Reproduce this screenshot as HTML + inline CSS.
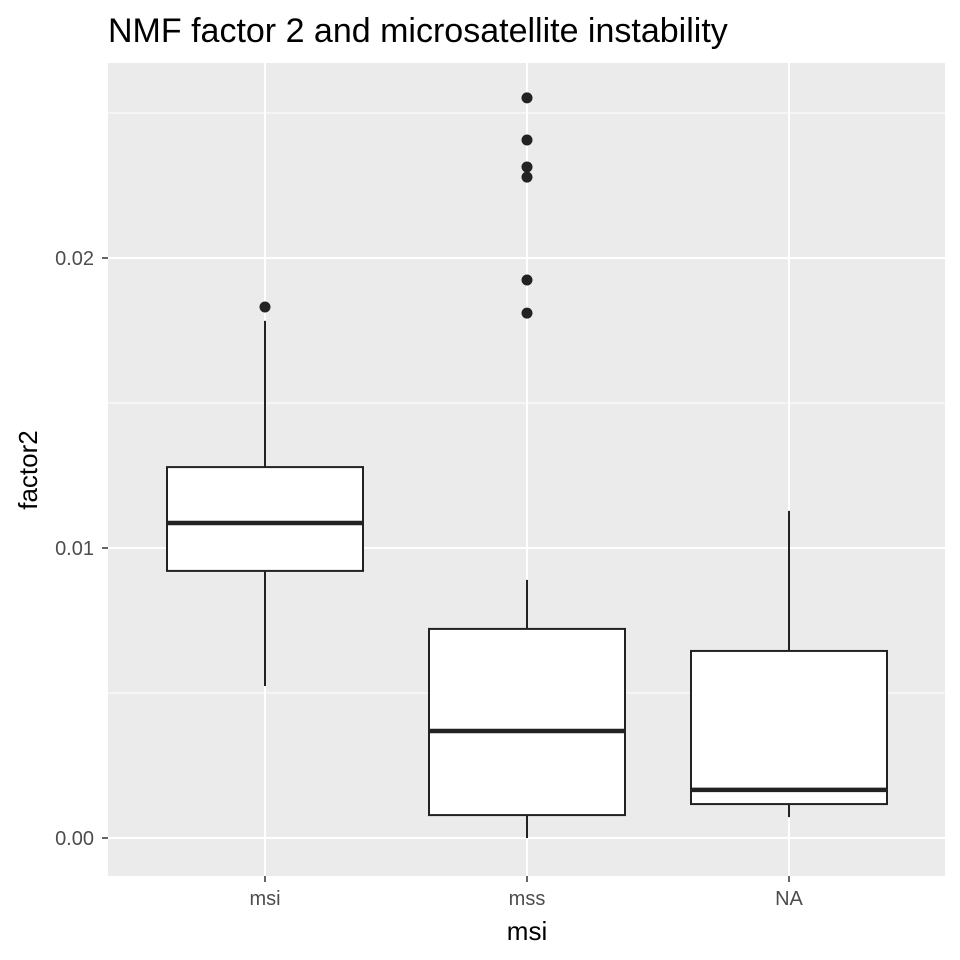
<!DOCTYPE html>
<html><head><meta charset="utf-8"><style>
body{margin:0;background:#fff;}
svg{display:block;font-family:"Liberation Sans",Arial,sans-serif;}
</style></head><body>
<svg id="chart" width="960" height="960" viewBox="0 0 960 960">
<text x="108" y="42" font-size="34" fill="#000">NMF factor 2 and microsatellite instability</text>
<rect x="108" y="63" width="837" height="813" fill="#ebebeb"/>
<g id="grid"></g><g id="boxes"></g><g id="axes"></g>
<text x="527" y="940" font-size="26" text-anchor="middle" fill="#000">msi</text>
<text transform="translate(37,470) rotate(-90)" font-size="26" text-anchor="middle" fill="#000">factor2</text>
</svg>
<script>
const categories=["msi","mss","NA"];
const q1=[0.00921,0.00079,0.00117];
const medians=[0.01086,0.00369,0.00166];
const q3=[0.01279,0.00721,0.00645];
const whiskerLow=[0.00524,0.0,0.00072];
const whiskerHigh=[0.01783,0.0089,0.01128];
const outlierCat=[0,1,1,1,1,1,1];
const outlierVal=[0.01831,0.02552,0.02407,0.02314,0.02279,0.01924,0.0181];
const yTicks=[0,0.01,0.02];
const yTickLabels=["0.00","0.01","0.02"];
const yMinor=[0.005,0.015,0.025];

const NS="http://www.w3.org/2000/svg";
const y=v=>838-v*29000;
const x=i=>265+i*262;
const bw=196;
function mk(tag,attrs,parent){const e=document.createElementNS(NS,tag);for(const k in attrs)e.setAttribute(k,attrs[k]);parent.appendChild(e);return e;}
const grid=document.getElementById('grid'),boxes=document.getElementById('boxes'),axes=document.getElementById('axes');
yMinor.forEach(v=>{const l=mk('line',{x1:108,x2:945,y1:y(v),y2:y(v),stroke:'#fff','stroke-width':1},grid);

});
yTicks.forEach((v,i)=>{const l=mk('line',{x1:108,x2:945,y1:y(v),y2:y(v),stroke:'#fff','stroke-width':2},grid);


const t=mk('line',{x1:102,x2:108,y1:y(v),y2:y(v),stroke:'#333','stroke-width':1.5},axes);


const tx=mk('text',{x:94,y:y(v)+7,'font-size':20,'text-anchor':'end',fill:'#4d4d4d'},axes);tx.textContent=yTickLabels[i];

});
categories.forEach((c,i)=>{const l=mk('line',{x1:x(i),x2:x(i),y1:63,y2:876,stroke:'#fff','stroke-width':2},grid);


const t=mk('line',{x1:x(i),x2:x(i),y1:876,y2:882,stroke:'#333','stroke-width':1.5},axes);


const tx=mk('text',{x:x(i),y:905,'font-size':20,'text-anchor':'middle',fill:'#4d4d4d'},axes);tx.textContent=c;


const g=mk('g',{},boxes);


mk('line',{x1:x(i),x2:x(i),y1:y(whiskerLow[i]),y2:y(q1[i]),stroke:'#222','stroke-width':2},g);
mk('line',{x1:x(i),x2:x(i),y1:y(q3[i]),y2:y(whiskerHigh[i]),stroke:'#222','stroke-width':2},g);
mk('rect',{x:x(i)-bw/2,y:y(q3[i]),width:bw,height:y(q1[i])-y(q3[i]),fill:'#fff',stroke:'#222','stroke-width':2},g);
mk('line',{x1:x(i)-bw/2,x2:x(i)+bw/2,y1:y(medians[i]),y2:y(medians[i]),stroke:'#222','stroke-width':4.5},g);});
outlierVal.forEach((v,k)=>{const p=mk('circle',{cx:x(outlierCat[k]),cy:y(v),r:5.5,fill:'#222'},boxes);

});
</script>
</body></html>
